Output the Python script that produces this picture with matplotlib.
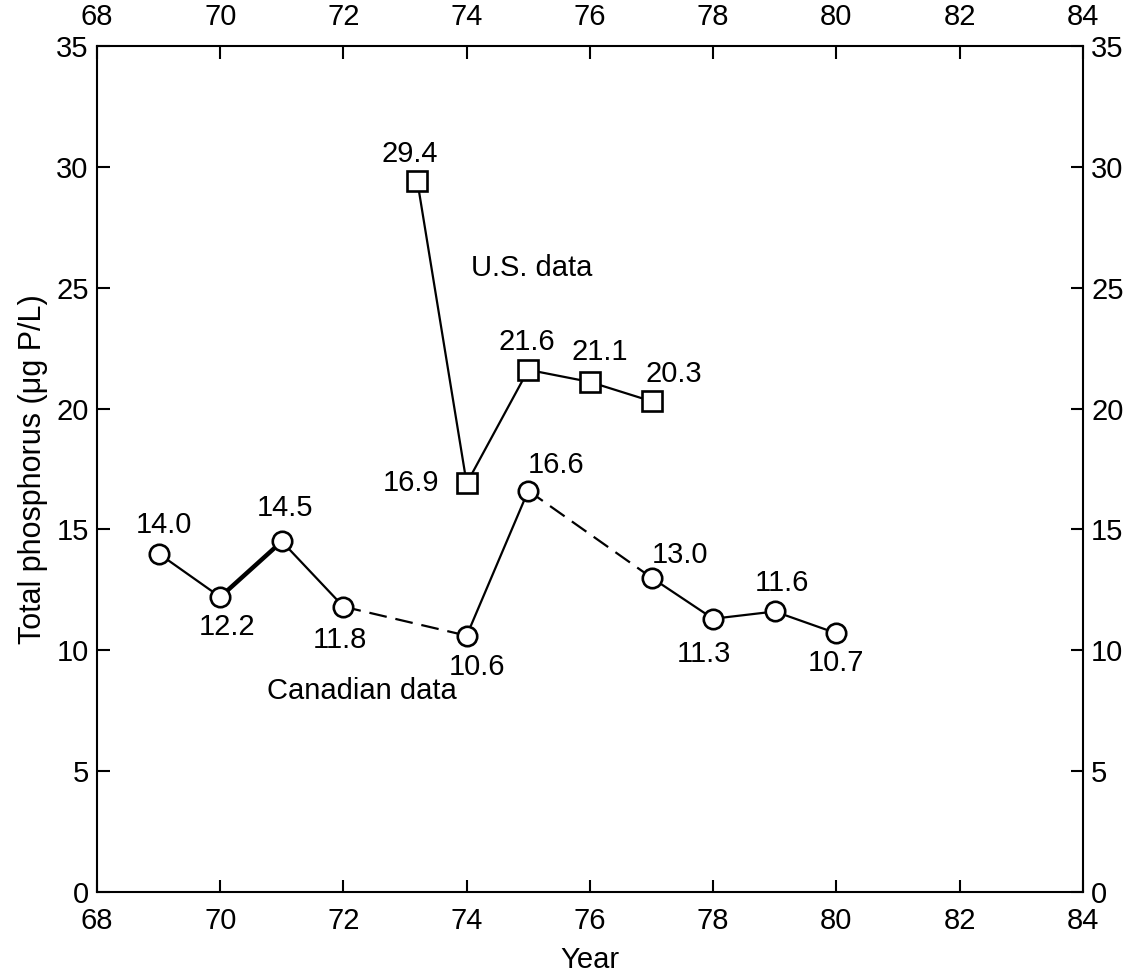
import matplotlib
matplotlib.use("Agg")
import matplotlib.pyplot as plt

# ---- data ----
can_years = [69, 70, 71, 72, 74, 75, 77, 78, 79, 80]
can_tp = [14.0, 12.2, 14.5, 11.8, 10.6, 16.6, 13.0, 11.3, 11.6, 10.7]
can_labels = ["14.0", "12.2", "14.5", "11.8", "10.6", "16.6", "13.0", "11.3", "11.6", "10.7"]
# segment styles between consecutive Canadian points
can_seg_style = ['-', '-', '-', '--', '-', '--', '-', '-', '-']

us_years = [73.2, 74, 75, 76, 77]
us_tp = [29.4, 16.9, 21.6, 21.1, 20.3]
us_labels = ["29.4", "16.9", "21.6", "21.1", "20.3"]

x_ticks = [68, 70, 72, 74, 76, 78, 80, 82, 84]
y_ticks = [0, 5, 10, 15, 20, 25, 30, 35]

# label offsets in pixels (dx, dy)
can_offsets = [(5, 29), (7, -30), (3, 33), (-4, -33), (10, -31),
               (28, 26), (28, 23), (-9, -35), (7, 28), (0, -30)]
us_offsets = [(-8, 27), (-56, 0), (-1, 28), (10, 30), (22, 27)]

plt.rcParams['font.family'] = ['Liberation Sans', 'DejaVu Sans']

fig = plt.figure(figsize=(11.41, 9.80), dpi=100)
ax = fig.add_axes([0.085, 0.090, 0.864, 0.863])

lw = 1.6
for i, st in enumerate(can_seg_style):
    w = 3.2 if i == 1 else lw
    kw = dict(color='black', lw=w, zorder=2)
    if st == '--':
        kw['dashes'] = (8, 4)
    ax.plot(can_years[i:i + 2], can_tp[i:i + 2], **kw)
ax.plot(can_years, can_tp, linestyle='none', marker='o', markersize=14,
        markerfacecolor='white', markeredgecolor='black', markeredgewidth=1.9, zorder=3)

ax.plot(us_years, us_tp, color='black', lw=lw, zorder=2)
ax.plot(us_years, us_tp, linestyle='none', marker='s', markersize=14,
        markerfacecolor='white', markeredgecolor='black', markeredgewidth=1.9, zorder=3)

fs = 21
for x, y, t, (dx, dy) in zip(can_years, can_tp, can_labels, can_offsets):
    ax.annotate(t, (x, y), xytext=(dx, dy), textcoords='offset pixels',
                ha='center', va='center', fontsize=fs)
for x, y, t, (dx, dy) in zip(us_years, us_tp, us_labels, us_offsets):
    ax.annotate(t, (x, y), xytext=(dx, dy), textcoords='offset pixels',
                ha='center', va='center', fontsize=fs)

ax.text(75.05, 25.8, "U.S. data", ha='center', va='center', fontsize=fs)
ax.text(72.3, 8.3, "Canadian data", ha='center', va='center', fontsize=fs)

ax.set_xlim(68, 84)
ax.set_ylim(0, 35)
ax.set_xticks(x_ticks)
ax.set_yticks(y_ticks)
ax.set_xticklabels([str(v) for v in x_ticks])
ax.set_yticklabels([str(v) for v in y_ticks])
ax.tick_params(direction='in', length=9, width=1.5, labelsize=21,
               top=True, right=True, labeltop=True, labelright=True, pad=6)
ax.tick_params(axis='x', pad=11)
for s in ax.spines.values():
    s.set_linewidth(1.5)

ax.set_xlabel("Year", fontsize=21, labelpad=8)
ax.set_ylabel("Total phosphorus (μg P/L)", fontsize=22, labelpad=6)

fig.savefig("out.png", dpi=100)
